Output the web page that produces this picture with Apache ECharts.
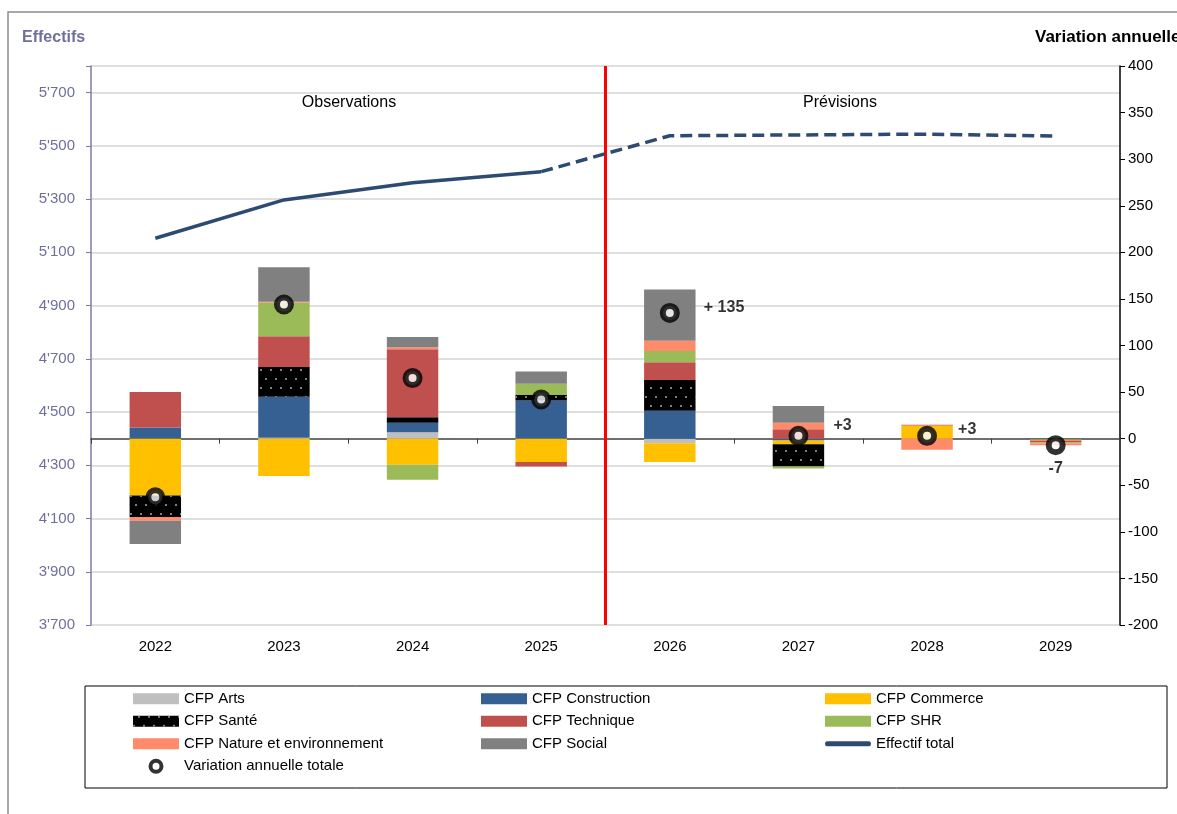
<!DOCTYPE html>
<html>
<head>
<meta charset="utf-8">
<title>Effectifs CFP</title>
<script src="https://cdn.jsdelivr.net/npm/echarts@6/dist/echarts.min.js"></script>
<style>
  html, body { margin: 0; padding: 0; background: #fff; }
  #chart { width: 1177px; height: 814px; }
</style>
</head>
<body>
<div id="chart"></div>
<script>
// années (2022-2025 observées, 2026-2029 prévues)
const years = ['2022', '2023', '2024', '2025', '2026', '2027', '2028', '2029']
const lastObserved = 3

// variation annuelle par CFP (axe de droite)
const cfpArts         = [0, 1, 7, 0, -5, 0, 0, 0]
const cfpConstruction = [12, 44, 10, 41, 30, -2, 0, -1]
const cfpCommerce     = [-61, -40, -28, -25, -20, -4, 14, -1]
const cfpSante        = [-23, 32, 6, 6, 33, -24, 0, 0]
const cfpTechnique    = [38, 33, 73, -5, 19, 10, 1, -2]
const cfpSHR          = [0, 36, -16, 12, 12, -2, 0, -1]
const cfpNature       = [-4, 1, 2, 0, 11, 7, -12, -2]
const cfpSocial       = [-25, 37, 11, 13, 55, 18, 0, 0]

// variation annuelle totale et libellés affichés
const varTotal  = [-63, 144, 65, 42, 135, 3, 3, -7]
const varLabels = ['', '', '', '', '+ 135', '+3', '+3', '-7']

// effectif total (axe de gauche)
const effectifTotal = [5153, 5297, 5361, 5403, 5538, 5541, 5544, 5537]

const FONT = 'Liberation Sans, Arial, sans-serif'

const cfpList = [
  ['CFP Arts', cfpArts, '#BFBFBF'],
  ['CFP Construction', cfpConstruction, '#376092'],
  ['CFP Commerce', cfpCommerce, '#FFC000'],
  ['CFP Santé', cfpSante, '#000000'],
  ['CFP Technique', cfpTechnique, '#C0504D'],
  ['CFP SHR', cfpSHR, '#9BBB59'],
  ['CFP Nature et environnement', cfpNature, '#FF8B6A'],
  ['CFP Social', cfpSocial, '#808080']
]

const santeDecal = {
  symbol: 'circle',
  symbolSize: 1,
  color: '#A8A8A8',
  dashArrayX: [[2, 8], [0, 5, 2, 3]],
  dashArrayY: [2, 7],
  rotation: 0
}

const barSeries = cfpList.map(([name, values, color]) => ({
  name,
  type: 'bar',
  stack: 'cfp',
  xAxisIndex: 0,
  yAxisIndex: 1,
  barWidth: '40%',
  itemStyle: name === 'CFP Santé' ? { color, decal: santeDecal } : { color },
  data: values,
  z: 2
}))

// placement des étiquettes de variation
const labelPlacement = {
  4: { position: 'right', distance: 24, offset: [0, -5] },
  5: { position: 'right', distance: 25, offset: [0, -10] },
  6: { position: 'right', distance: 21, offset: [0, -6] },
  7: { position: 'bottom', distance: 5, offset: [0, 0] }
}

const lineColor = '#2C4A72'

const legendCommon = {
  orient: 'vertical',
  top: 690,
  itemWidth: 46,
  itemHeight: 11,
  itemGap: 5,
  padding: 0,
  icon: 'rect',
  selectedMode: false,
  textStyle: { fontSize: 15, lineHeight: 17.5, color: '#000', fontFamily: FONT }
}

const chart = echarts.init(document.getElementById('chart'))

chart.setOption({
  animation: false,
  textStyle: { fontFamily: FONT },
  grid: { left: 91, right: 57, top: 66, bottom: 189 },
  legend: [
    Object.assign({}, legendCommon, {
      left: 133,
      data: [
        'CFP Arts', 'CFP Santé', 'CFP Nature et environnement',
        { name: 'Variation annuelle totale', icon: 'circle', itemStyle: { color: '#fff', borderColor: '#000', borderWidth: 4 } }
      ]
    }),
    Object.assign({}, legendCommon, {
      left: 481,
      data: ['CFP Construction', 'CFP Technique', 'CFP Social']
    }),
    Object.assign({}, legendCommon, {
      left: 825,
      data: ['CFP Commerce', 'CFP SHR', { name: 'Effectif total', icon: 'path://M2,0 L44,0 Q46,0 46,2.5 Q46,5 44,5 L2,5 Q0,5 0,2.5 Q0,0 2,0 Z' }]
    })
  ],
  xAxis: [
    {
      type: 'category',
      data: years,
      position: 'bottom',
      axisLine: { show: false, onZero: false },
      axisTick: { show: false },
      axisLabel: { fontSize: 15, color: '#000', margin: 14 }
    },
    {
      type: 'category',
      data: years,
      position: 'top',
      axisLine: { show: true, onZero: true, onZeroAxisIndex: 1, lineStyle: { color: '#404040', width: 1.5 } },
      axisTick: { show: true, inside: true, length: 5, lineStyle: { color: '#404040' } },
      axisLabel: { show: false },
      splitLine: { show: false }
    },
    { type: 'value', min: 0, max: 8, show: false }
  ],
  yAxis: [
    {
      type: 'value',
      min: 3700,
      max: 5800,
      interval: 200,
      position: 'left',
      axisLine: { show: true, onZero: false, lineStyle: { color: '#7A7AA5', width: 1.5 } },
      axisTick: { show: true, length: 5, lineStyle: { color: '#7A7AA5' } },
      axisLabel: {
        color: '#6F6F9F',
        fontSize: 15,
        margin: 16,
        formatter: v => v > 5700 ? '' : String(v).replace(/(\d)(\d{3})$/, "$1'$2")
      },
      splitLine: { show: true, lineStyle: { color: '#D4D4D4', width: 1.5 } }
    },
    {
      type: 'value',
      min: -200,
      max: 400,
      interval: 50,
      position: 'right',
      axisLine: { show: true, onZero: false, lineStyle: { color: '#000', width: 1.5 } },
      axisTick: { show: true, length: 5, lineStyle: { color: '#000' } },
      axisLabel: { color: '#000', fontSize: 15, margin: 8 },
      splitLine: { show: false }
    }
  ],
  graphic: [
    { type: 'rect', shape: { x: 8, y: 12, width: 1300, height: 900 }, style: { fill: 'none', stroke: '#8C8C8C', lineWidth: 1.5 }, silent: true },
    { type: 'rect', shape: { x: 85, y: 686, width: 1082, height: 102 }, style: { fill: 'none', stroke: '#000', lineWidth: 1 }, silent: true },
    { type: 'text', left: 22, top: 30, style: { text: 'Effectifs', fill: '#6F6F9F', font: 'bold 16px ' + FONT } },
    { type: 'text', left: 1035, top: 29, style: { text: 'Variation annuelle', fill: '#000', font: 'bold 17px ' + FONT } },
    { type: 'text', x: 349, y: 103, style: { text: 'Observations', fill: '#000', font: '16px ' + FONT, align: 'center', verticalAlign: 'middle' } },
    { type: 'text', x: 840, y: 103, style: { text: 'Prévisions', fill: '#000', font: '16px ' + FONT, align: 'center', verticalAlign: 'middle' } }
  ],
  series: [
    ...barSeries,
    {
      name: 'Effectif total',
      type: 'line',
      xAxisIndex: 0,
      yAxisIndex: 0,
      symbol: 'none',
      itemStyle: { color: lineColor },
      lineStyle: { color: lineColor, width: 3.5 },
      data: effectifTotal.map((v, i) => i <= lastObserved ? v : null),
      z: 5
    },
    {
      name: 'Effectif total (prévision)',
      type: 'line',
      xAxisIndex: 0,
      yAxisIndex: 0,
      symbol: 'none',
      itemStyle: { color: lineColor },
      lineStyle: { color: lineColor, width: 3.5, type: [12, 6] },
      data: effectifTotal.map((v, i) => i >= lastObserved ? v : null),
      z: 5
    },
    {
      name: 'Variation annuelle totale',
      type: 'scatter',
      xAxisIndex: 0,
      yAxisIndex: 1,
      symbol: 'circle',
      symbolSize: 14,
      itemStyle: { color: '#fff', borderColor: '#000', borderWidth: 6 },
      label: {
        show: true,
        formatter: p => varLabels[p.dataIndex],
        fontWeight: 'bold',
        fontSize: 16,
        color: '#000'
      },
      data: varTotal.map((v, i) => ({ value: v, label: labelPlacement[i] || { show: false } })),
      z: 10
    },
    {
      name: 'Séparation',
      type: 'line',
      xAxisIndex: 2,
      yAxisIndex: 1,
      data: [],
      markLine: {
        silent: true,
        symbol: 'none',
        label: { show: false },
        lineStyle: { color: '#FF0000', width: 3, type: 'solid' },
        data: [{ xAxis: 4 }]
      }
    }
  ]
})
</script>
</body>
</html>
